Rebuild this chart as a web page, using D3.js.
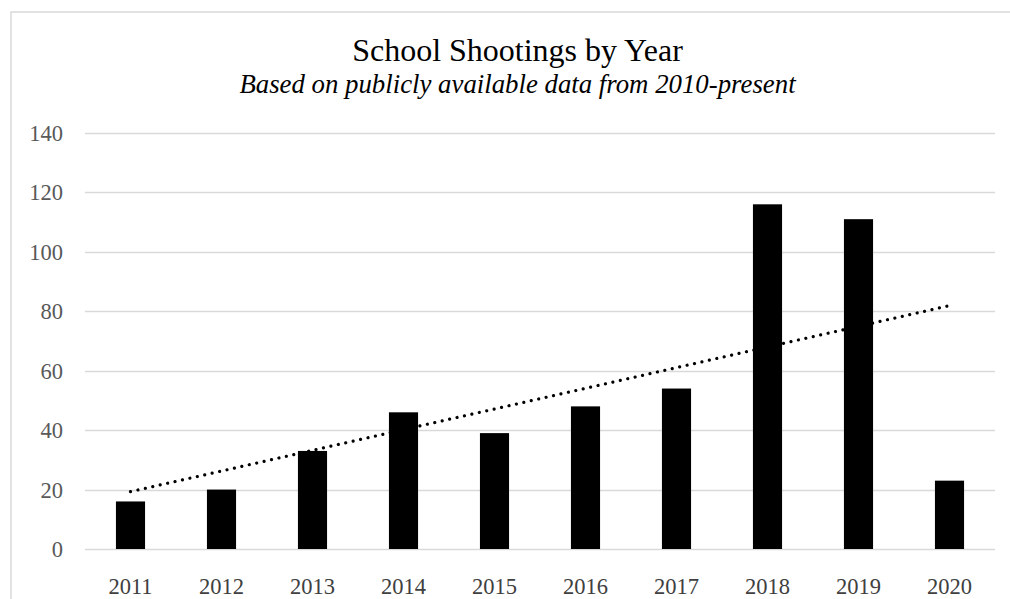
<!DOCTYPE html>
<html>
<head>
<meta charset="utf-8">
<script src="https://cdn.jsdelivr.net/npm/d3@7"></script>
<style>
html,body{margin:0;padding:0;background:#fff;overflow:hidden;}
svg{display:block;}
</style>
</head>
<body>
<script>
const years = ["2011","2012","2013","2014","2015","2016","2017","2018","2019","2020"];
const shootings = [16,20,33,46,39,48,54,116,111,23];
const yTicks = [0,20,40,60,80,100,120,140];
const titleText = "School Shootings by Year";
const subtitleText = "Based on publicly available data from 2010-present";

(function(){
const W = 1010, H = 599;
const svg = d3.select("body").append("svg").attr("width", W).attr("height", H);
const font = "'Liberation Serif','Times New Roman',serif";

// outer chart border (extends beyond right/bottom edges)
svg.append("rect").attr("x", 11).attr("y", 12).attr("width", 1010).attr("height", 600)
  .attr("fill", "#fff").attr("stroke", "#d9d9d9").attr("stroke-width", 1.5);

const pLeft = 85, pRight = 995, pTop = 133, pBottom = 549;
const x = d3.scaleBand().domain(years).range([pLeft, pRight]).paddingInner(0.68).paddingOuter(0.34);
const y = d3.scaleLinear().domain([0, 140]).range([pBottom, pTop]);

// gridlines
svg.append("g").selectAll("line").data(yTicks).join("line")
  .attr("x1", pLeft).attr("x2", pRight)
  .attr("y1", d => Math.round(y(d)) + 0.5).attr("y2", d => Math.round(y(d)) + 0.5)
  .attr("stroke", "#d9d9d9").attr("stroke-width", 1.3);

// y axis labels
const yAxis = d3.axisLeft(y).tickValues(yTicks).tickSize(0).tickPadding(0).tickFormat(d3.format("d"));
const gy = svg.append("g").attr("transform", `translate(63,0)`).call(yAxis);
gy.select(".domain").remove();
gy.selectAll("text").attr("font-family", font).attr("font-size", 22.5).attr("fill", "#595959").attr("dy", "0.33em");

// bars
svg.append("g").selectAll("rect").data(years).join("rect")
  .attr("x", d => x(d)).attr("width", x.bandwidth())
  .attr("y", (d, i) => y(shootings[i]))
  .attr("height", (d, i) => y(0) - y(shootings[i]))
  .attr("fill", "#000");

// x axis labels
const xAxis = d3.axisBottom(x).tickSize(0).tickPadding(0);
const gx = svg.append("g").attr("transform", `translate(0,${pBottom})`).call(xAxis);
gx.select(".domain").remove();
gx.selectAll("text").attr("font-family", font).attr("font-size", 22.5).attr("fill", "#404040")
  .attr("dy", null).attr("y", 45);

// linear trendline (least squares fit of the series)
const n = shootings.length;
const xs = d3.range(1, n + 1);
const mx = d3.mean(xs), my = d3.mean(shootings);
const slope = d3.sum(xs, (v, i) => (v - mx) * (shootings[i] - my)) / d3.sum(xs, v => (v - mx) ** 2);
const intercept = my - slope * mx;
const cx = d => x(d) + x.bandwidth() / 2;
svg.append("line")
  .attr("x1", cx(years[0])).attr("y1", y(intercept + slope * 1))
  .attr("x2", cx(years[n - 1])).attr("y2", y(intercept + slope * n))
  .attr("stroke", "#000").attr("stroke-width", 3.2)
  .attr("stroke-linecap", "round").attr("stroke-dasharray", "0.01 7.6");

// titles
svg.append("text").attr("x", 517.5).attr("y", 61).attr("text-anchor", "middle")
  .attr("font-family", font).attr("font-size", 32).attr("fill", "#000").text(titleText);
svg.append("text").attr("x", 517.5).attr("y", 93).attr("text-anchor", "middle")
  .attr("font-family", font).attr("font-style", "italic").attr("font-size", 26.8).attr("fill", "#000").text(subtitleText);
})();
</script>
</body>
</html>
